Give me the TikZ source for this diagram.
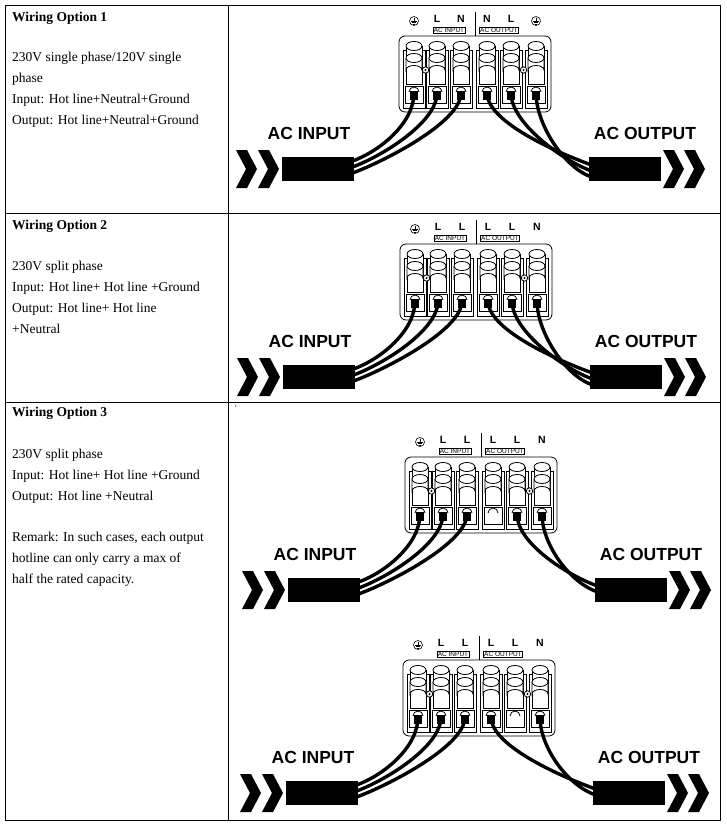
\documentclass[tikz,border=0pt]{standalone}
\usepackage{fontspec}
\setmainfont{Liberation Serif}
\newfontfamily\sansb{Liberation Sans}[Scale=1]
\usetikzlibrary{calc}
\tikzset{
 x=1pt,y=-1pt,
 frame/.style={line width=0.8pt},
 txt/.style={anchor=west,inner sep=0pt,font=\fontsize{13.5}{16}\selectfont},
 ttl/.style={txt,font=\fontsize{13.5}{16}\selectfont\bfseries},
 big/.style={inner sep=0pt,font=\sansb\bfseries\fontsize{17.5}{20}\selectfont},
 tiny/.style={draw,line width=0.5pt,inner sep=0.6pt,font=\sansb\fontsize{6.5}{6.5}\selectfont},
 lab/.style={inner sep=0pt,font=\sansb\bfseries\fontsize{10.5}{10.5}\selectfont},
 part/.style={line width=0.8pt,fill=white},
 wire/.style={line width=3.4pt,black},
 cable/.style={fill=black,draw=none,minimum width=72pt,minimum height=24pt,inner sep=0pt},
 chev/.style={fill=black,draw=none}
}
\newcommand\gndsym[1]{%
 \draw[line width=0.6pt] (#1) circle (4.5);
 \draw[line width=0.6pt] ($(#1)+(0,-3.5)$)--($(#1)+(0,0)$) ($(#1)+(-2.8,0)$)--($(#1)+(2.8,0)$)
   ($(#1)+(-1.8,1.5)$)--($(#1)+(1.8,1.5)$) ($(#1)+(-0.8,3)$)--($(#1)+(0.8,3)$);}
\newcommand\chevron[2]{\fill[chev] (#1,#2) ++(0,-19) -- ++(11,0) -- ++(10,19) -- ++(-10,19) -- ++(-11,0) -- ++(10,-19) -- cycle;}
% #1 xs #2 ys #3 label set #4 inputs #5 outputs #6 prefix
\newcommand\wpanel[6]{%
\begin{scope}[shift={(#1,#2)}]
 \draw[part,rounded corners=6pt] (0,0) rectangle (152,76);
 \draw[line width=0.6pt] (76,-24) -- (76,0);
 \foreach \x [count=\i] in {15,38,62,88,112,137}{
   \draw[part] (\x-11,14) rectangle (\x+11,72);
   \draw[part] (\x-8,10) -- (\x-8,48) -- (\x+8,48) -- (\x+8,10);
   \draw[part] (\x,10) ellipse (8 and 4.5);
   \draw[part] (\x-8,22) -- (\x-8,34) arc (180:360:8 and 4.5) -- (\x+8,22);
   \draw[part] (\x,22) ellipse (8 and 4.5);
   \draw[part] (\x-9,50) rectangle (\x+9,67);
   \draw[line width=0.8pt] (\x-5,56) arc (180:360:5 and 5) ;
   \coordinate (#6t\i) at (\x,57);
 }
 \foreach \x in {26.5,124.5}{\draw[part] (\x,34) circle (3.2); \fill (\x,34) circle (1.2);}
 \ifnum#3=1
  \gndsym{15,-15}
  \node[lab] (#6l2) at (38,-17) {L}; \node[lab] (#6l3) at (62,-17) {N};
  \node[lab] (#6l4) at (88,-17) {N}; \node[lab] (#6l5) at (112,-17) {L};
  \gndsym{137,-15}
 \else
  \gndsym{15,-15}
  \node[lab] (#6l2) at (38,-17) {L}; \node[lab] (#6l3) at (62,-17) {L};
  \node[lab] (#6l4) at (88,-17) {L}; \node[lab] (#6l5) at (112,-17) {L};
  \node[lab] (#6l6) at (137,-17) {N};
 \fi
 \node[tiny] (#6ai) at (50,-6) {AC INPUT};
 \node[tiny] (#6ao) at (100,-6) {AC OUTPUT};
 \node[cable,anchor=east] (#6ci) at (-45,133) {};
 \node[cable,anchor=west] (#6co) at (190,133) {};
 \chevron{-163}{133}\chevron{-141}{133}
 \chevron{264}{133}\chevron{285}{133}
 \node[big] (#6ti) at (-90,97) {AC INPUT};
 \node[big] (#6to) at (246,97) {AC OUTPUT};
 \foreach \t [count=\k] in {#4}
   \draw[wire] (#6t\t) .. controls +(0,30) and +(28,-10) .. ($(#6ci.east)+(-2,{(\k-2.3)*6})$);
 \foreach \t [count=\k] in {#5}
   \draw[wire] (#6t\t) .. controls +(0,30) and +(-28,-10) .. ($(#6co.west)+(2,{(\k-1.7)*6})$);
 \foreach \t in {#4,#5} \fill (#6t\t) ++(-4,-2) rectangle ++(8,9);
\end{scope}}
\begin{document}
\begin{tikzpicture}
\useasboundingbox (0,0) rectangle (727,827);
\fill[white] (0,0) rectangle (727,827);
\draw[frame] (5,5) rectangle (720,820);
\draw[frame] (228,5) -- (228,820);
\draw[frame] (5,213) -- (720,213);
\draw[frame] (5,402) -- (720,402);
% text
\node[ttl] (h1) at (12,18) {Wiring Option 1};
\node[txt] (a1) at (12,58) {230V single phase/120V single};
\node[txt] (a2) at (12,79) {phase};
\node[txt] (a3) at (12,100) {Input: Hot line+Neutral+Ground};
\node[txt] (a4) at (12,121) {Output: Hot line+Neutral+Ground};
\node[ttl] (h2) at (12,226) {Wiring Option 2};
\node[txt] (b1) at (12,267) {230V split phase};
\node[txt] (b2) at (12,288) {Input: Hot line+ Hot line +Ground};
\node[txt] (b3) at (12,309) {Output: Hot line+ Hot line};
\node[txt] (b4) at (12,329) {+Neutral};
\node[ttl] (h3) at (12,413) {Wiring Option 3};
\node[txt] (c1) at (12,455) {230V split phase};
\node[txt] (c2) at (12,476) {Input: Hot line+ Hot line +Ground};
\node[txt] (c3) at (12,497) {Output: Hot line +Neutral};
\node[txt] (c4) at (12,538) {Remark: In such cases, each output};
\node[txt] (c5) at (12,559) {hotline can only carry a max of};
\node[txt] (c6) at (12,580) {half the rated capacity.};
\node[inner sep=0pt,font=\fontsize{8}{8}\selectfont] (tick) at (236,408) {`};
\wpanel{399}{36}{1}{1,2,3}{4,5,6}{p}
\wpanel{400}{244}{2}{1,2,3}{4,5,6}{q}
\wpanel{405}{457}{2}{1,2,3}{5,6}{r}
\wpanel{403}{660}{2}{1,2,3}{4,6}{s}
\end{tikzpicture}
\end{document}
